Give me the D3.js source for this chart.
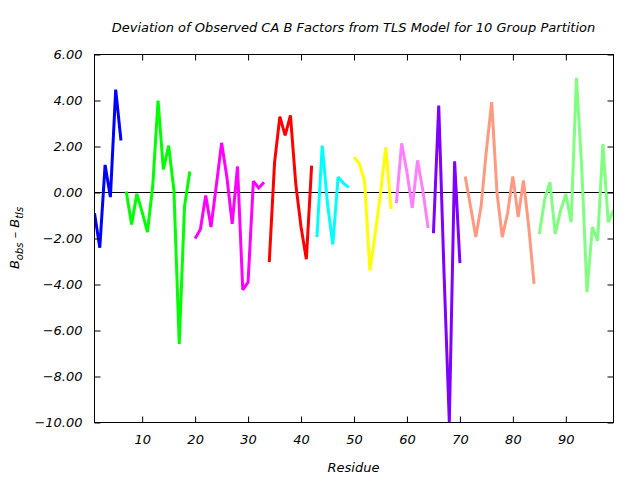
<!DOCTYPE html>
<html>
<head>
<meta charset="utf-8">
<script src="https://cdn.jsdelivr.net/npm/d3@7"></script>
<style>
  body { margin: 0; background: #fff; }
  text { font-family: "DejaVu Sans", sans-serif; font-style: italic; fill: #000; }
</style>
</head>
<body>
<div id="chart"></div>
<script>
// residue tick labels and y ticks
const xTicks = [10, 20, 30, 40, 50, 60, 70, 80, 90];
const yTicks = [-10, -8, -6, -4, -2, 0, 2, 4, 6];

// one array per TLS group: first residue + deviation values
const grpStart = [1, 7, 20, 34, 43, 50, 58, 65, 71, 85];
const grpColor = ["#0000ff", "#00ff00", "#ff00ff", "#ff0000", "#00ffff",
                  "#ffff00", "#ff80ff", "#8000ff", "#ff9980", "#80ff80"];
const g1 = [-0.9, -2.4, 1.2, -0.2, 4.47, 2.26];
const g2 = [0.04, -1.39, -0.06, -0.85, -1.72, 0.3, 4.0, 1.0, 2.04, 0.09, -6.58, -0.6, 0.91];
const g3 = [-2.0, -1.6, -0.13, -1.5, 0.3, 2.16, 0.67, -1.36, 1.13, -4.23, -3.9, 0.49, 0.2, 0.45];
const g4 = [-3.03, 1.3, 3.3, 2.48, 3.35, 0.38, -1.5, -2.9, 1.17];
const g5 = [-1.94, 2.04, -0.5, -2.26, 0.67, 0.41, 0.22];
const g6 = [1.54, 1.25, 0.5, -3.39, -1.8, -0.06, 1.97, -0.71];
const g7 = [-0.46, 2.14, 0.88, -0.67, 1.4, 0.09, -1.55];
const g8 = [-1.77, 3.78, -3.5, -10.0, 1.36, -3.07];
const g9 = [0.7, -0.6, -1.94, -0.6, 1.83, 3.93, 0.0, -1.94, -0.9, 0.7, -1.07, 0.52, -1.5, -3.97];
const g10 = [-1.8, -0.3, 0.45, -1.8, -0.8, -0.06, -1.29, 4.99, 1.1, -4.33, -1.5, -2.1, 2.1, -1.29, -0.78];
const groups = [g1, g2, g3, g4, g5, g6, g7, g8, g9, g10];

const svgWidth = 640, svgHeight = 480;
const margin = { top: 54, right: 27, bottom: 58, left: 94 };
const width = svgWidth - margin.left - margin.right;
const height = svgHeight - margin.top - margin.bottom;

let svg = d3.select("#chart").append("svg").attr("width", svgWidth).attr("height", svgHeight);
let chrtgrp = svg.append("g").attr("transform", `translate(${margin.left + 0.5}, ${margin.top + 0.5})`);

let x = d3.scaleLinear().domain([1, 99]).range([0, width]);
let y = d3.scaleLinear().domain([-10, 6]).range([height, 0]);

svg.append("defs").append("clipPath").attr("id", "clip")
  .append("rect").attr("width", width).attr("height", height);

// zero line
chrtgrp.append("line")
  .attr("x1", 0).attr("x2", width)
  .attr("y1", y(0)).attr("y2", y(0))
  .attr("stroke", "#000").attr("stroke-width", 1);

let line = d3.line().x(d => x(d.r)).y(d => y(d.v));
let lineGrp = chrtgrp.append("g").attr("clip-path", "url(#clip)");
groups.forEach((vals, i) => {
  let pts = vals.map((v, j) => ({ r: grpStart[i] + j, v: v }));
  lineGrp.append("path")
    .datum(pts)
    .attr("d", line)
    .attr("fill", "none")
    .attr("stroke", grpColor[i])
    .attr("stroke-width", 3)
    .attr("stroke-linejoin", "miter")
    .attr("stroke-miterlimit", 2);
});

// axes with inward ticks on all sides
let tk = 6;
let styleAxis = (g) => {
  g.select(".domain").remove();
  g.selectAll("line").attr("stroke", "#000");
  g.selectAll("text").style("font-size", "13px");
};
chrtgrp.append("g")
  .attr("transform", `translate(0, ${height})`)
  .call(d3.axisBottom(x).tickValues(xTicks).tickSizeInner(-tk).tickSizeOuter(0).tickPadding(12))
  .call(styleAxis);
chrtgrp.append("g")
  .call(d3.axisTop(x).tickValues(xTicks).tickSizeInner(-tk).tickSizeOuter(0).tickFormat(""))
  .call(styleAxis);
chrtgrp.append("g")
  .call(d3.axisLeft(y).tickValues(yTicks).tickSizeInner(-tk).tickSizeOuter(0).tickPadding(12).tickFormat(d3.format(".2f")))
  .call(styleAxis);
chrtgrp.append("g")
  .attr("transform", `translate(${width}, 0)`)
  .call(d3.axisRight(y).tickValues(yTicks).tickSizeInner(-tk).tickSizeOuter(0).tickFormat(""))
  .call(styleAxis);

chrtgrp.append("rect")
  .attr("width", width).attr("height", height)
  .attr("fill", "none").attr("stroke", "#000").attr("stroke-width", 1);

// title and labels
svg.append("text")
  .attr("x", margin.left + width / 2).attr("y", 32)
  .attr("text-anchor", "middle")
  .style("font-size", "13px")
  .text("Deviation of Observed CA B Factors from TLS Model for 10 Group Partition");

svg.append("text")
  .attr("x", margin.left + width / 2).attr("y", 472)
  .attr("text-anchor", "middle")
  .style("font-size", "13px")
  .text("Residue");

let ylbl = svg.append("text")
  .attr("transform", `translate(19, ${margin.top + height / 2}) rotate(-90)`)
  .attr("text-anchor", "middle")
  .style("font-size", "13px");
ylbl.append("tspan").text("B");
ylbl.append("tspan").attr("dy", 4).style("font-size", "10px").text("obs");
ylbl.append("tspan").attr("dy", -4).text(" \u2013 B");
ylbl.append("tspan").attr("dy", 4).style("font-size", "10px").text("tls");
</script>
</body>
</html>
